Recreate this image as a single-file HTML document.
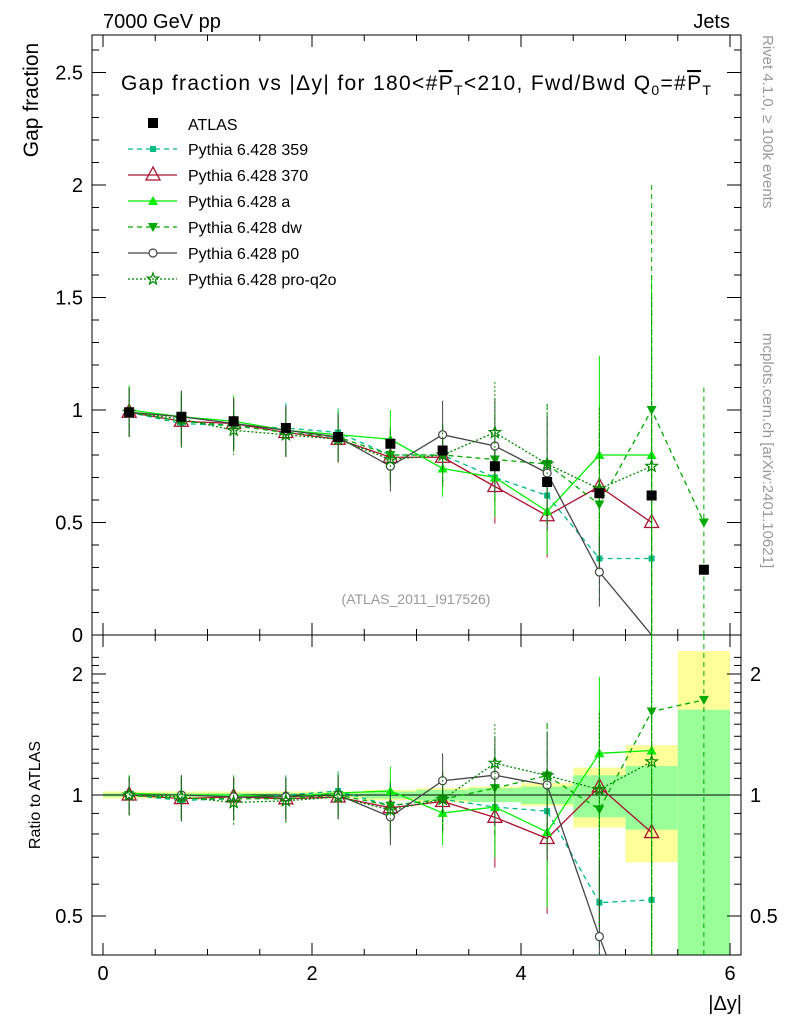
<!DOCTYPE html>
<html><head><meta charset="utf-8"><style>
html,body{margin:0;background:#fff;overflow:hidden;width:786px;height:1024px}
svg{display:block;font-family:"Liberation Sans",sans-serif}
</style></head><body>
<svg id="c" width="786" height="1024" viewBox="0 0 786 1024">
<text x="103" y="28" font-size="20">7000 GeV pp</text>
<text x="730" y="28" font-size="20" text-anchor="end">Jets</text>
<text x="416" y="90" font-size="21" text-anchor="middle" textLength="590">Gap fraction vs |Δy| for 180&lt;#<tspan text-decoration="overline">P</tspan><tspan font-size="14" dy="5">T</tspan><tspan dy="-5">&lt;210, Fwd/Bwd Q</tspan><tspan font-size="14" dy="5">0</tspan><tspan dy="-5">=#</tspan><tspan text-decoration="overline">P</tspan><tspan font-size="14" dy="5">T</tspan></text>
<text transform="translate(38,100) rotate(-90)" font-size="21" text-anchor="middle">Gap fraction</text>
<text transform="translate(40,795) rotate(-90)" font-size="16" text-anchor="middle">Ratio to ATLAS</text>
<text x="742" y="1010" font-size="20" text-anchor="end">|Δy|</text>
<text transform="translate(763,35) rotate(90)" font-size="15" fill="#999">Rivet 4.1.0, ≥ 100k events</text>
<text transform="translate(763,333) rotate(90)" font-size="15" fill="#999">mcplots.cern.ch [arXiv:2401.10621]</text>
<text x="416" y="604" font-size="14" fill="#999" text-anchor="middle">(ATLAS_2011_I917526)</text>
<g id="bands"></g><g id="axes"></g><g id="marks"></g><g id="legend"></g>
</svg>
<script>
const bins=[0.25,0.75,1.25,1.75,2.25,2.75,3.25,3.75,4.25,4.75,5.25,5.75];
const atlasVals=[0.99,0.97,0.95,0.92,0.88,0.85,0.82,0.75,0.68,0.63,0.62,0.29];
const bandUp=[0.02,0.02,0.02,0.02,0.02,0.03,0.04,0.05,0.07,0.17,0.33,1.28];
const bandDn=[0.02,0.02,0.02,0.02,0.02,0.03,0.04,0.04,0.06,0.17,0.32,0.6];
const bandStatUp=[0.01,0.01,0.01,0.01,0.01,0.02,0.03,0.04,0.05,0.12,0.18,0.63];
const bandStatDn=[0.01,0.01,0.01,0.01,0.01,0.02,0.03,0.04,0.05,0.12,0.18,0.6];
const s359=[0.99,0.94,0.93,0.92,0.90,0.80,0.80,0.70,0.62,0.34,0.34];
const s370=[0.99,0.95,0.94,0.90,0.87,0.79,0.79,0.66,0.53,0.66,0.50];
const sA=[1.0,0.97,0.95,0.91,0.89,0.87,0.74,0.70,0.55,0.80,0.80];
const sDw=[0.99,0.95,0.93,0.90,0.88,0.80,0.80,0.78,0.76,0.58,1.00,0.50];
const sP0=[0.99,0.97,0.94,0.91,0.88,0.75,0.89,0.84,0.72,0.28,0.0];
const sQ2o=[0.99,0.96,0.91,0.89,0.87,0.78,0.80,0.90,0.76,0.65,0.75];
const modelErr=[0.11,0.12,0.12,0.12,0.12,0.15,0.17,0.25,0.35,0.55,1.0,1.2];
const xTicks=[0,2,4,6];
const yTicks=[0,0.5,1,1.5,2,2.5];
const yTickLabels=["0","0.5","1","1.5","2","2.5"];
const rTicks=[0.5,1,2];

const X=v=>103+v*104.5, Y=v=>635-v*225, R=r=>795-121*Math.log2(r);
const L=92,Rt=741,T=35,M=635,B=955;
const clampM=y=>Math.min(Math.max(y,T),M), clampR=y=>Math.min(Math.max(y,M),B);
const NS="http://www.w3.org/2000/svg";
function mk(p,t,a){const e=document.createElementNS(NS,t);for(const k in a)e.setAttribute(k,a[k]);p.appendChild(e);return e;}
const svg=document.getElementById('c');
const defs=mk(svg,'defs',{});
const cp1=mk(defs,'clipPath',{id:'cm'});mk(cp1,'rect',{x:L,y:T,width:Rt-L,height:M-T});
const cp2=mk(defs,'clipPath',{id:'cr'});mk(cp2,'rect',{x:L,y:M,width:Rt-L,height:B-M});
const bands=document.getElementById('bands'),axes=document.getElementById('axes'),marks=document.getElementById('marks'),leg=document.getElementById('legend');
bands.setAttribute('clip-path','url(#cr)');
bins.forEach((b,i)=>{
 let y1=clampR(R(1+bandUp[i])),y2=clampR(R(Math.max(1-bandDn[i],0.3)));
 let e=mk(bands,'rect',{x:X(b-0.25),width:104.5/2,y:y1,height:y2-y1,fill:'#ffff99'});
 
 
 y1=clampR(R(1+bandStatUp[i]));y2=clampR(R(Math.max(1-bandStatDn[i],0.3)));
 e=mk(bands,'rect',{x:X(b-0.25),width:104.5/2,y:y1,height:y2-y1,fill:'#99ff99'});
 
 
});
let f=mk(axes,'rect',{x:L,y:T,width:Rt-L,height:M-T,fill:'none',stroke:'#000','stroke-width':1});

f=mk(axes,'rect',{x:L,y:M,width:Rt-L,height:B-M,fill:'none',stroke:'#000','stroke-width':1});

mk(axes,'line',{x1:L,x2:Rt,y1:R(1),y2:R(1),stroke:'#000'});
xTicks.forEach(v=>{
 for(const [y0,d] of [[M,-12],[T,12],[B,-12],[M,12]]) mk(axes,'line',{x1:X(v),x2:X(v),y1:y0,y2:y0+d,stroke:'#000'});
 const t=mk(axes,'text',{x:X(v),y:980,'font-size':20,'text-anchor':'middle'});t.textContent=v;
 
});
for(let v=0;v<=6.1;v+=0.5){for(const [y0,d] of [[M,-6],[T,6],[B,-6],[M,6]]) mk(axes,'line',{x1:X(v),x2:X(v),y1:y0,y2:y0+d,stroke:'#000'});}
yTicks.forEach((v,i)=>{
 mk(axes,'line',{x1:L,x2:L+14,y1:Y(v),y2:Y(v),stroke:'#000'});mk(axes,'line',{x1:Rt,x2:Rt-14,y1:Y(v),y2:Y(v),stroke:'#000'});
 const t=mk(axes,'text',{x:83,y:Y(v)+7,'font-size':20,'text-anchor':'end'});t.textContent=yTickLabels[i];
 
});
for(let v=0.1;v<2.65;v+=0.1){mk(axes,'line',{x1:L,x2:L+7,y1:Y(v),y2:Y(v),stroke:'#000'});mk(axes,'line',{x1:Rt,x2:Rt-7,y1:Y(v),y2:Y(v),stroke:'#000'});}
rTicks.forEach(v=>{
 mk(axes,'line',{x1:L,x2:L+14,y1:R(v),y2:R(v),stroke:'#000'});mk(axes,'line',{x1:Rt,x2:Rt-14,y1:R(v),y2:R(v),stroke:'#000'});
 let t=mk(axes,'text',{x:83,y:R(v)+7,'font-size':20,'text-anchor':'end'});t.textContent=v;
 
 t=mk(axes,'text',{x:750,y:R(v)+7,'font-size':20});t.textContent=v;
 
});
for(let v=0.4;v<2.3;v+=0.1){if([0.5,1,2].some(r=>Math.abs(r-v)<0.01))continue;mk(axes,'line',{x1:L,x2:L+7,y1:R(v),y2:R(v),stroke:'#000'});mk(axes,'line',{x1:Rt,x2:Rt-7,y1:R(v),y2:R(v),stroke:'#000'});}

function marker(g,type,x,y,col){
 if(type==='sq')return mk(g,'rect',{x:x-3,y:y-3,width:6,height:6,fill:col});
 if(type==='bigsq')return mk(g,'rect',{x:x-5,y:y-5,width:10,height:10,fill:'#000'});
 if(type==='otri')return mk(g,'polygon',{points:`${x},${y-8} ${x-7},${y+5} ${x+7},${y+5}`,fill:'none',stroke:col,'stroke-width':1.3});
 if(type==='tri')return mk(g,'polygon',{points:`${x},${y-5} ${x-5},${y+4} ${x+5},${y+4}`,fill:col});
 if(type==='itri')return mk(g,'polygon',{points:`${x},${y+5} ${x-5},${y-4} ${x+5},${y-4}`,fill:col});
 if(type==='circ')return mk(g,'circle',{cx:x,cy:y,r:4,fill:'#fff',stroke:col,'stroke-width':1.2});
 if(type==='star'){let p=[];for(let k=0;k<10;k++){const r=k%2?2.5:6,a=-Math.PI/2+k*Math.PI/5;p.push((x+r*Math.cos(a)).toFixed(1)+','+(y+r*Math.sin(a)).toFixed(1));}return mk(g,'polygon',{points:p.join(' '),fill:'none',stroke:col,'stroke-width':1.2});}
}
const series=[
 {name:'Pythia 6.428 359',v:s359,col:'#00bb88',dash:'5,4',m:'sq',id:'359'},
 {name:'Pythia 6.428 370',v:s370,col:'#aa1133',dash:'',m:'otri',id:'370'},
 {name:'Pythia 6.428 a',v:sA,col:'#00ee00',dash:'',m:'tri',id:'a'},
 {name:'Pythia 6.428 dw',v:sDw,col:'#00aa00',dash:'5,4',m:'itri',id:'dw'},
 {name:'Pythia 6.428 p0',v:sP0,col:'#444444',dash:'',m:'circ',id:'p0'},
 {name:'Pythia 6.428 pro-q2o',v:sQ2o,col:'#008800',dash:'2,2',m:'star',id:'pro-q2o'},
];
const gm=mk(marks,'g',{'clip-path':'url(#cm)'}),gr=mk(marks,'g',{'clip-path':'url(#cr)'});
series.forEach(s=>{
 const pts=s.v.map((v,i)=>X(bins[i])+','+Y(v)).join(' ');
 let pl=mk(gm,'polyline',{points:pts,fill:'none',stroke:s.col,'stroke-width':1.3,'stroke-dasharray':s.dash});
 
 const rp=s.v.map((v,i)=>X(bins[i])+','+R(Math.max(v/atlasVals[i],0.2))).join(' ');
 pl=mk(gr,'polyline',{points:rp,fill:'none',stroke:s.col,'stroke-width':1.3,'stroke-dasharray':s.dash});
 
 s.v.forEach((v,i)=>{
  if(v<=0)return;
  const x=X(bins[i]),e=modelErr[i]*v;
  mk(gm,'line',{x1:x,x2:x,y1:clampM(Y(v+e)),y2:clampM(Y(v-e)),stroke:s.col,'stroke-dasharray':s.dash});
  let m=marker(gm,s.m,x,Y(v),s.col);
  
  const r=v/atlasVals[i];
  mk(gr,'line',{x1:x,x2:x,y1:clampR(R(r*(1+modelErr[i]))),y2:clampR(R(Math.max(r*(1-modelErr[i]),0.2))),stroke:s.col,'stroke-dasharray':s.dash});
  m=marker(gr,s.m,x,R(r),s.col);
  
 });
});
atlasVals.forEach((v,i)=>{
 const m=marker(gm,'bigsq',X(bins[i]),Y(v),'#000');
 
});
let e=mk(leg,'rect',{x:148,y:118,width:10,height:10,fill:'#000'});
let t=mk(leg,'text',{x:188,y:130,'font-size':16});t.textContent='ATLAS';

series.forEach((s,k)=>{
 const y=149+k*26;
 mk(leg,'line',{x1:128,x2:177,y1:y,y2:y,stroke:s.col,'stroke-width':1.3,'stroke-dasharray':s.dash});
 marker(leg,s.m,153,y,s.col);
 const tt=mk(leg,'text',{x:188,y:y+6,'font-size':16});tt.textContent=s.name;
 
});
</script>
</body></html>
